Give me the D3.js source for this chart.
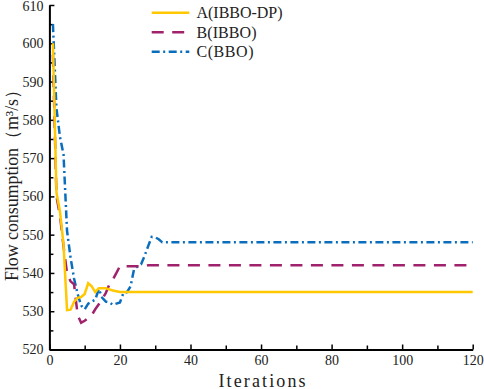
<!DOCTYPE html>
<html>
<head>
<meta charset="utf-8">
<script src="https://cdn.jsdelivr.net/npm/d3@7"></script>
<style>
  body { margin: 0; background: #fff; }
  svg { display: block; }
</style>
</head>
<body>
<svg id="chart"></svg>
<script>
// iterations where each series changes, and the flow read at those iterations
var iterA = [1, 2, 3, 4, 5, 6, 7, 8, 9, 10, 11, 12, 13, 14, 15, 16, 17, 18, 19, 20, 120];
var flowA = [600, 561, 556, 547.5, 530.3, 530.4, 532.5, 533.5, 533.7, 534.5, 537.3, 536.5, 535, 536, 536, 536, 535.7, 535.4, 535.2, 535, 535];

var iterB = [1, 2, 3, 4, 5, 6, 7, 8, 9, 10, 11, 12, 13, 14, 15, 16, 17, 18, 19, 20, 27, 28, 120];
var flowB = [597, 560, 555, 547, 540, 537.8, 537, 529, 527, 527.5, 528.2, 529, 530.5, 531.8, 533.2, 534.8, 537, 538.3, 540, 541.8, 541.7, 542, 542];

var iterC = [1, 2, 3, 4, 5, 6, 7, 8, 9, 10, 11, 12, 13, 14, 15, 16, 17, 18, 19, 20, 21, 22, 23, 24, 25, 26, 27, 28, 29, 30, 31, 32, 120];
var flowC = [605, 583, 575.5, 571, 551, 544, 538.5, 534.5, 531.5, 530.5, 532, 532.5, 533, 535.8, 533.5, 532.5, 532.3, 531.7, 532, 532.3, 534.8, 535, 536.5, 541, 541.7, 542.3, 544.5, 547, 549.4, 549.3, 548.8, 548, 548];

var seriesNames = ["A(IBBO-DP)", "B(IBBO)", "C(BBO)"];
var seriesColors = ["#FFC800", "#A0226C", "#0A6EBD"];
var seriesDash = [null, "12,8.5", "8,3.5,2,3.5"];

var xTicks = [0, 20, 40, 60, 80, 100, 120];
var xMinor = [10, 30, 50, 70, 90, 110];
var yTicks = [520, 530, 540, 550, 560, 570, 580, 590, 600, 610];
var yMinor = [525, 535, 545, 555, 565, 575, 585, 595, 605];

var width = 484, height = 389;
var margin = { top: 5, right: 11.3, bottom: 39.5, left: 49.4 };

var svg = d3.select("#chart")
    .attr("width", width)
    .attr("height", height);

var xScale = d3.scaleLinear()
    .domain([0, 120])
    .range([margin.left, width - margin.right]);

var yScale = d3.scaleLinear()
    .domain([520, 610])
    .range([height - margin.bottom, margin.top]);

var tickFont = "'Liberation Serif', 'Times New Roman', serif";

// minor ticks first, so the main axes sit on top
svg.append("g")
    .attr("transform", "translate(" + margin.left + ",0)")
    .call(d3.axisLeft(yScale).tickValues(yMinor).tickSize(-4).tickSizeOuter(0).tickFormat(""))
    .call(g => g.select(".domain").remove())
    .call(g => g.selectAll(".tick line").attr("stroke-width", 1.5));

svg.append("g")
    .attr("transform", "translate(0," + (height - margin.bottom) + ")")
    .call(d3.axisBottom(xScale).tickValues(xMinor).tickSize(-4).tickSizeOuter(0).tickFormat(""))
    .call(g => g.select(".domain").remove())
    .call(g => g.selectAll(".tick line").attr("stroke-width", 1.5));

var yAxis = svg.append("g")
    .attr("transform", "translate(" + margin.left + ",0)")
    .call(d3.axisLeft(yScale).tickValues(yTicks).tickSize(-5).tickSizeOuter(0).tickPadding(6));

var xAxis = svg.append("g")
    .attr("transform", "translate(0," + (height - margin.bottom) + ")")
    .call(d3.axisBottom(xScale).tickValues(xTicks).tickSize(-5).tickSizeOuter(0).tickPadding(6));

[yAxis, xAxis].forEach(function (g) {
    g.select(".domain").attr("stroke-width", 2);
    g.selectAll(".tick line").attr("stroke-width", 1.5);
    g.selectAll(".tick text")
        .attr("font-family", tickFont)
        .attr("font-size", 14)
        .attr("fill", "#222");
});

// the 610 label touches the top edge, nudge it down a little
yAxis.selectAll(".tick text")
    .filter(d => d === 610)
    .attr("y", 1.5);

// series lines
var line = d3.line()
    .x(d => xScale(d[0]))
    .y(d => yScale(d[1]));

var series = [
    d3.zip(iterA, flowA),
    d3.zip(iterB, flowB),
    d3.zip(iterC, flowC)
];

// draw C, then B, then A on top
[2, 1, 0].forEach(function (k) {
    svg.append("path")
        .datum(series[k])
        .attr("fill", "none")
        .attr("stroke", seriesColors[k])
        .attr("stroke-width", 2.5)
        .attr("stroke-dasharray", seriesDash[k])
        .attr("d", line);
});

// legend
var legendY = [12.7, 32.3, 51.7];
var legendW = [86, 60, 57];
seriesNames.forEach(function (name, k) {
    svg.append("line")
        .attr("x1", 151.7).attr("x2", 189.3)
        .attr("y1", legendY[k]).attr("y2", legendY[k])
        .attr("stroke", seriesColors[k])
        .attr("stroke-width", 2.5)
        .attr("stroke-dasharray", seriesDash[k]);
    svg.append("text")
        .attr("x", 196.5)
        .attr("y", legendY[k] + 5.5)
        .attr("font-family", tickFont)
        .attr("font-size", 16)
        .attr("fill", "#222")
        .attr("textLength", legendW[k])
        .attr("lengthAdjust", "spacing")
        .text(name);
});

// axis titles
svg.append("text")
    .attr("x", 262)
    .attr("y", 386.5)
    .attr("text-anchor", "middle")
    .attr("font-family", tickFont)
    .attr("font-size", 18)
    .attr("fill", "#222")
    .attr("textLength", 87)
    .attr("lengthAdjust", "spacing")
    .text("Iterations");

svg.append("text")
    .attr("transform", "translate(18,181) rotate(-90)")
    .attr("text-anchor", "middle")
    .attr("font-family", tickFont)
    .attr("font-size", 18)
    .attr("fill", "#222")
    .attr("textLength", 200)
    .attr("lengthAdjust", "spacing")
    .text("Flow consumption\uFF08m\u00B3/s\uFF09");
</script>
</body>
</html>
